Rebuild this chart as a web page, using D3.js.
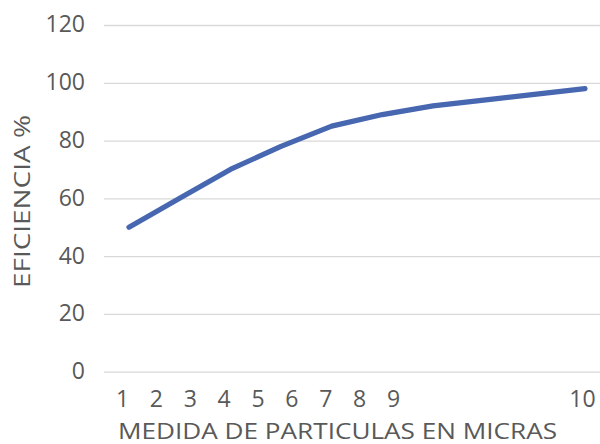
<!DOCTYPE html>
<html><head><meta charset="utf-8">
<script src="https://cdn.jsdelivr.net/npm/d3@7"></script>
<style>body{margin:0;background:#fff}svg{display:block}</style>
</head><body>
<script>
const categories = ["1","2","3","4","5","6","7","8","9","10"];
const efficiency = [50,60,70,78,85,89,92,94,96,98];
const xTickLabels = [1,2,3,4,5,6,7,8,9,10];
const yTicks = [0,20,40,60,80,100,120];
const xTitle = "MEDIDA DE PARTICULAS EN MICRAS";
const yTitle = "EFICIENCIA %";

const W = 600, H = 444;
const FONT = "'Open Sans', Roboto, sans-serif";
const grey = "#595959";
const svg = d3.select("body").append("svg").attr("width", W).attr("height", H);

const y = d3.scaleLinear().domain([0,120]).range([371.7,25]);
const x = d3.scalePoint().domain(categories).range([129,585]);
const xl = d3.scaleLinear().domain([1,9,10]).range([122,393,582]);

// gridlines
const yAxis = d3.axisLeft(y).tickValues(yTicks).tickSize(-(600-104)).tickPadding(19);
const gy = svg.append("g").attr("transform","translate(104,0)").call(yAxis);
gy.select(".domain").remove();
gy.selectAll(".tick line").attr("stroke","#d9d9d9").attr("stroke-width",1.3);
gy.selectAll(".tick text").attr("fill",grey).style("font-family",FONT).style("font-size","23px").attr("dy","0.3em");

// x labels
const xAxis = d3.axisBottom(xl).tickValues(xTickLabels).tickSize(0).tickPadding(0).tickFormat(d3.format("d"));
const gx = svg.append("g").attr("transform","translate(0,407)").call(xAxis);
gx.select(".domain").remove();
gx.selectAll(".tick text").attr("fill",grey).style("font-family",FONT).style("font-size","23px").attr("dy","0").attr("y",0);

// line
const line = d3.line().x((d,i)=>x(categories[i])).y(d=>y(d));
svg.append("path").datum(efficiency).attr("d",line).attr("fill","none")
  .attr("stroke","#4767b0").attr("stroke-width",5.2)
  .attr("stroke-linecap","round").attr("stroke-linejoin","round");

// titles
svg.append("text").attr("x",118).attr("y",439).attr("textLength",439).attr("lengthAdjust","spacingAndGlyphs")
  .attr("fill",grey).style("font-family",FONT).style("font-size","21px").text(xTitle);
svg.append("text").attr("transform","translate(30,288) rotate(-90)").attr("textLength",173).attr("lengthAdjust","spacingAndGlyphs")
  .attr("fill",grey).style("font-family",FONT).style("font-size","22px").text(yTitle);
</script>
</body></html>
